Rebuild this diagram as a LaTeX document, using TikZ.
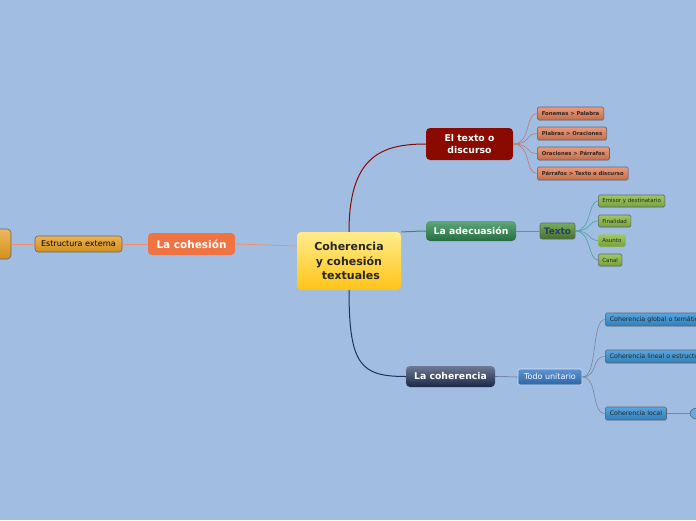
\documentclass[tikz,border=0pt]{standalone}
\usepackage{fontspec}
\setmainfont{DejaVu Sans}
\usetikzlibrary{positioning,shapes.geometric,shadows}

\definecolor{fondo}{RGB}{161,190,226}
\definecolor{rojo}{RGB}{139,10,0}
\definecolor{salmon}{RGB}{232,128,88}
\definecolor{verde}{RGB}{52,145,88}
\definecolor{verdeB}{RGB}{96,160,58}
\definecolor{verdeC}{RGB}{140,190,70}
\definecolor{turquesa}{RGB}{70,165,150}
\definecolor{marino}{RGB}{32,50,90}
\definecolor{azul}{RGB}{52,120,196}
\definecolor{tinta}{RGB}{40,60,110}
\definecolor{celeste}{RGB}{58,150,218}
\definecolor{naranja}{RGB}{240,115,66}
\definecolor{oro}{RGB}{232,160,34}
\definecolor{amarilloA}{RGB}{255,236,140}
\definecolor{amarilloB}{RGB}{255,196,24}
\definecolor{borde}{RGB}{95,100,115}

\begin{document}
\begin{tikzpicture}[x=1pt,y=-1pt,
    mainbox/.style={rounded corners=4pt, text=white, align=center,
        font=\fontsize{9.3}{12}\selectfont\bfseries, inner sep=0pt},
    subbox/.style={rounded corners=1.5pt, draw=borde, line width=0.6pt, anchor=west,
        minimum height=13, inner xsep=4.5pt, inner ysep=0pt,
        drop shadow={shadow xshift=0.6pt, shadow yshift=-0.6pt, opacity=0.25}},
    redbox/.style={subbox, top color=salmon!80!white, bottom color=salmon!85!black,
        font=\fontsize{5.3}{6}\selectfont\bfseries, text=black!85},
    greenbox/.style={subbox, minimum height=12, inner xsep=4pt, top color=verdeC!85!white,
        bottom color=verdeC!85!black, font=\fontsize{5.5}{6}\selectfont, text=black!85},
    bluebox/.style={subbox, top color=celeste!85!white, bottom color=celeste!85!black,
        font=\fontsize{6.3}{7}\selectfont, text=black!85},
    link/.style={line width=0.6pt}]
    \clip (0,0) rectangle (696,520);
    \fill[fondo] (0,0) rectangle (696,520);

    % Nodos principales
    \node[mainbox, minimum width=104, minimum height=58, top color=amarilloA,
        bottom color=amarilloB, text=black!85,
        font=\fontsize{11}{14.5}\selectfont\bfseries] (centro) at (349,261)
        {Coherencia\\ y cohesión\\ \ textuales};
    \node[mainbox, minimum width=87, minimum height=32, fill=rojo] (discurso) at (469.5,144) {El texto o\\ discurso};
    \node[mainbox, minimum width=90, minimum height=20, top color=verde!80!white, bottom color=verde!75!black] (adecuacion) at (471,231) {La adecuasión};
    \node[mainbox, minimum width=89, minimum height=21, top color=marino!65!white, bottom color=marino!80!black] (coherencia) at (450.5,376.5) {La coherencia};
    \node[mainbox, minimum width=87, minimum height=22, fill=naranja, font=\fontsize{10.5}{12}\selectfont\bfseries] (cohesion) at (191.5,244) {La cohesión};

    % Rama de la cohesion
    \node[rounded corners=3pt, draw=borde, line width=0.6pt, minimum width=87, minimum height=16, inner sep=0pt,
        top color=oro!80!white, bottom color=oro!90!black, font=\fontsize{8}{9}\selectfont] (externa) at (78.5,244) {Estructura externa};
    \node[rounded corners=4pt, draw=borde, line width=0.6pt, minimum width=51, minimum height=30,
        top color=oro!75!white, bottom color=oro!90!black] (izq) at (-14.5,244) {};

    % Rama del discurso
    \node[redbox] (fonemas) at (537,113.5) {Fonemas > Palabra};
    \node[redbox] (palabras) at (537,133.5) {Plabras > Oraciones};
    \node[redbox] (oraciones) at (537,153.5) {Oraciones > Párrafos};
    \node[redbox] (parrafos) at (537,173.5) {Párrafos > Texto o discurso};

    % Rama de la adecuacion
    \node[rounded corners=2pt, draw=borde, line width=0.6pt, minimum width=35, minimum height=16, inner sep=0pt,
        top color=verdeB!85!white, bottom color=verdeB!70!black, text=tinta,
        font=\fontsize{9}{10}\selectfont\bfseries] (texto) at (557.5,231) {Texto};
    \node[greenbox] (emisor) at (598,201) {Emisor y destinatario};
    \node[greenbox] (finalidad) at (598,221) {Finalidad};
    \node[greenbox, draw=none, fill=verdeC!90!yellow, drop shadow={opacity=0}] (asunto) at (598,240.5) {Asunto};
    \node[greenbox] (canal) at (598,260) {Canal};

    % Rama de la coherencia
    \node[rounded corners=2pt, draw=white!80!azul, line width=0.6pt, minimum width=64, minimum height=16, inner sep=0pt,
        top color=azul!80!white, bottom color=azul!85!black, text=white,
        font=\fontsize{8}{9}\selectfont] (unitario) at (550,377) {Todo unitario};
    \node[bluebox] (global) at (605,319.5) {Coherencia global o temática};
    \node[bluebox] (lineal) at (605,356.5) {Coherencia lineal o estructural};
    \node[bluebox] (local) at (605,413.5) {Coherencia local};
    \node[ellipse, draw=borde, line width=0.6pt, fill=celeste!80!white, minimum width=14, minimum height=11, inner sep=0pt] (punto) at (697,413.5) {};

    % Conectores
    \draw[rojo, line width=1pt] (centro.north) .. controls +(0,-75) and +(-45,0) .. (discurso.west);
    \draw[verde, line width=1pt] (centro.north east) .. controls +(10,0) and +(-10,0) .. (adecuacion.west);
    \draw[marino, line width=1pt] (centro.south) .. controls +(0,75) and +(-45,0) .. (coherencia.west);
    \draw[naranja!80!white, line width=0.8pt] (centro.164) -- (cohesion.east);
    \draw[naranja!80!white, link] (cohesion.west) -- (externa.east);
    \draw[naranja!80!white, link] (externa.west) -- (izq.east);

    \foreach \n in {fonemas,palabras,oraciones,parrafos}
        \draw[link, rojo!55!white] (discurso.east) .. controls +(18,0) and +(-12,0) .. (\n.west);
    \draw[link, verde!85!white] (adecuacion.east) -- (texto.west);
    \foreach \n in {emisor,finalidad,asunto,canal}
        \draw[link, turquesa] (texto.east) .. controls +(16,0) and +(-10,0) .. (\n.west);
    \draw[link, marino!70!white] (coherencia.east) -- (unitario.west);
    \foreach \n in {global,lineal,local}
        \draw[link, marino!60!white] (unitario.east) .. controls +(16,0) and +(-14,0) .. (\n.west);
    \draw[link, marino!60!white] (local.east) -- (punto.west);
\end{tikzpicture}
\end{document}
